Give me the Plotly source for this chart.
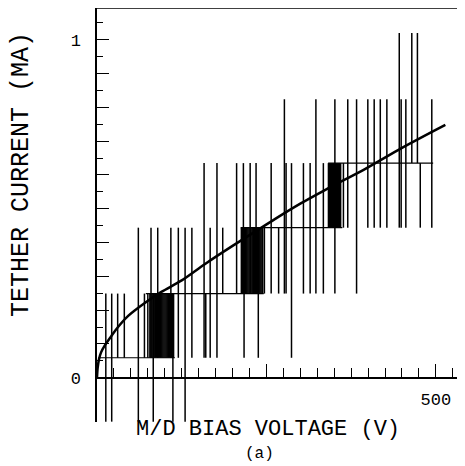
import plotly.graph_objects as go

# Quantised current levels (mA) that the readings fall on
levels = [-0.13, 0.059, 0.249, 0.444, 0.635, 0.824, 1.02]

# Individual readings: bias voltage (V) and lower / upper level index of each bar
bar_v = [13, 21.7, 30.5, 40.3, 61, 70, 75, 79.7, 83, 89.6, 109, 112, 120, 130, 140,
         158, 160.5, 167, 177, 185.5, 206, 216, 217, 226, 234.7, 238, 247, 257, 268,
         276.5, 279, 287, 304.6, 314.5, 323, 334, 351, 363.6, 370, 383, 399.6, 409,
         418, 427.7, 446, 448.8, 455.7, 464.5, 472.8, 477, 494]
bar_lo = [0, 0, 1, 1, 0, 1, 1, 1, 0, 1, 1, 0, 1, 0, 1,
          1, 1, 1, 1, 2, 2, 2, 1, 2, 2, 1, 2, 2, 2,
          2, 2, 1, 2, 2, 2, 2, 2, 3, 3, 2, 3, 3,
          3, 3, 3, 3, 3, 4, 4, 3, 3]
bar_hi = [2, 2, 2, 2, 3, 2, 2, 3, 2, 3, 3, 2, 3, 3, 3,
          4, 2, 3, 4, 3, 4, 4, 2, 4, 4, 2, 3, 4, 3,
          5, 4, 4, 4, 4, 5, 4, 5, 4, 5, 5, 5, 5,
          5, 5, 6, 5, 5, 6, 6, 4, 5]

# Densely packed readings (appear as solid black blocks)
block1_v = [78, 79.6, 81.2, 82.8, 84.4, 86, 87.6, 89.2, 90.8, 92.4, 94, 95.6, 97.2,
            98.8, 100.4, 102, 103.6, 105.2, 106.8, 108.4, 110, 111.6, 113]
block2_v = [213, 214.6, 216.2, 217.8, 219.4, 221, 222.6, 224.2, 225.8, 227.4, 229,
            230.6, 232.2, 233.8, 235.4, 237, 238.6, 240.2, 241.8, 243.4, 244.5]
block3_v = [341.5, 343, 344.5, 346, 347.5, 349, 350.5, 352, 353.5, 355, 356.5, 358, 359.5]
block_v = [block1_v, block2_v, block3_v]
block_lo = [1, 2, 3]
block_hi = [2, 3, 4]

# Horizontal staircase segments: level index, start and end voltage
step_level = [1, 2, 3, 4]
step_v0 = [2, 72, 212, 341]
step_v1 = [115, 246, 362, 496]

# Model curve
curve_v = [0, 1, 3, 6, 12, 20, 27, 46, 71, 95, 125, 159, 200, 245, 263, 300, 337, 396, 450, 514]
curve_i = [0, 0.03, 0.055, 0.075, 0.097, 0.12, 0.14, 0.183, 0.222, 0.254, 0.288, 0.336,
           0.39, 0.447, 0.47, 0.515, 0.556, 0.618, 0.68, 0.748]

FONT = "Liberation Mono"

bx, by = [], []
for v, lo, hi in zip(bar_v, bar_lo, bar_hi):
    bx += [v, v, None]
    by += [levels[lo], levels[hi], None]
for vs, lo, hi in zip(block_v, block_lo, block_hi):
    for v in vs:
        bx += [v, v, None]
        by += [levels[lo], levels[hi], None]

sx, sy = [], []
for lv, a, b in zip(step_level, step_v0, step_v1):
    sx += [a, b, None]
    sy += [levels[lv], levels[lv], None]

fig = go.Figure()
fig.add_trace(go.Scatter(x=bx, y=by, mode="lines",
                         line=dict(color="black", width=1.5), hoverinfo="skip"))
fig.add_trace(go.Scatter(x=sx, y=sy, mode="lines",
                         line=dict(color="black", width=1.1), hoverinfo="skip"))
fig.add_trace(go.Scatter(x=curve_v, y=curve_i, mode="lines",
                         line=dict(color="black", width=2.5, shape="spline", smoothing=0.8),
                         hoverinfo="skip"))

# page offset of 8 px (default body margin) is compensated in the layout
OFF = 8
PLOT_L, PLOT_T, PLOT_B, PLOT_R = 97, 8, 422, 465
W, H = 465 - OFF, 466 - OFF
pw, ph = PLOT_R - PLOT_L, PLOT_B - PLOT_T

yr = [-0.131, 1.094]
xr = [0, 543]
xpos = (0 - yr[0]) / (yr[1] - yr[0])

ymaj = [0, 0.1, 0.2, 0.3, 0.4, 0.5, 0.6, 0.7, 0.8, 0.9, 1.0]
ymaj_txt = ["0", "", "", "", "", "", "", "", "", "", "1"]
ymin = [0.05, 0.15, 0.25, 0.35, 0.45, 0.55, 0.65, 0.75, 0.85, 0.95, 1.05]

fig.update_layout(
    width=W, height=H,
    margin=dict(l=PLOT_L - OFF, r=0, t=PLOT_T - OFF, b=H - (PLOT_B - OFF), pad=0),
    plot_bgcolor="white", paper_bgcolor="white",
    showlegend=False,
    xaxis=dict(range=xr, anchor="free", position=xpos,
               showline=True, linecolor="black", linewidth=1.5,
               tickmode="array", tickvals=[250, 500], ticktext=["", "500"],
               ticks="inside", ticklen=13, tickwidth=1.3, tickcolor="black",
               minor=dict(tickmode="linear", tick0=0, dtick=25, ticks="inside",
                          ticklen=9, tickwidth=1.2, tickcolor="black"),
               showgrid=False, zeroline=False, ticklabelstandoff=6,
               tickfont=dict(family=FONT, size=17, color="black")),
    yaxis=dict(range=yr, showline=True, linecolor="black", linewidth=1.5,
               tickmode="array", tickvals=ymaj, ticktext=ymaj_txt,
               ticks="inside", ticklen=12, tickwidth=1.3, tickcolor="black",
               minor=dict(tickmode="array", tickvals=ymin, ticks="inside",
                          ticklen=6, tickwidth=1.2, tickcolor="black"),
               showgrid=False, zeroline=False, ticklabelstandoff=11,
               tickfont=dict(family=FONT, size=17, color="black")),
)

fig.add_shape(type="line", xref="paper", yref="paper", x0=0, x1=1, y0=1, y1=1,
              line=dict(color="black", width=1.5))


def px(x):
    return (x - PLOT_L) / pw


def py(y):
    return (PLOT_B - y) / ph


fig.add_annotation(text="TETHER CURRENT (MA)", xref="paper", yref="paper",
                   x=px(21), y=py(175), textangle=-90,
                   showarrow=False, xanchor="center", yanchor="middle",
                   font=dict(family=FONT, size=25, color="black"))
fig.add_annotation(text="M/D BIAS VOLTAGE (V)", xref="paper", yref="paper",
                   x=px(268), y=py(429.5),
                   showarrow=False, xanchor="center", yanchor="middle",
                   font=dict(family=FONT, size=22, color="black"))
fig.add_annotation(text="(a)", xref="paper", yref="paper",
                   x=px(259), y=py(454),
                   showarrow=False, xanchor="center", yanchor="middle",
                   font=dict(family=FONT, size=16, color="black"))

fig.write_html("out.html")
